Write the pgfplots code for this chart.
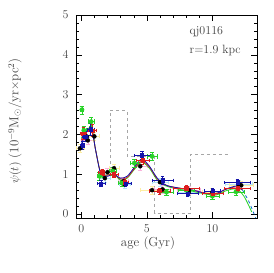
\documentclass[border=0pt]{standalone}
\usepackage{pgfplots}
\pgfplotsset{compat=1.18}
\definecolor{cblue}{RGB}{20,20,170}
\definecolor{cred}{RGB}{220,30,30}
\definecolor{cgreen}{RGB}{40,210,40}
\begin{document}
\begin{tikzpicture}[x=1pt,y=1pt]
\path[use as bounding box] (0,0) rectangle (273,273);
\begin{axis}[at={(76pt,55pt)}, anchor=south west, scale only axis,
  width=181pt, height=203pt,
  xmin=-0.4, xmax=13.4, ymin=-0.1, ymax=5,
  xtick={0,5,10}, minor x tick num=4,
  ytick={0,1,2,3,4,5}, minor y tick num=4,
  tick align=inside, major tick length=6pt, minor tick length=3pt,
  tick style={black, thin},
  axis line style={thin},
  ticklabel style={font=\large, text=black!75},
  yticklabel style={xshift=-4pt},
  xticklabel style={yshift=-3pt},
  clip=true]
% histogram
\addplot[gray!70, dashed, const plot, thin] coordinates {(2.2,1.1) (2.2,2.6) (3.5,1.45) (5.6,0.02) (8.3,1.5) (11.3,1.5)};
% faint error bars
\addplot[only marks, mark=none, error bars/.cd, x dir=both, y dir=both, x explicit, y explicit, error bar style={magenta!30, thin}] table[x=x,y=y,x error=ex,y error=ey] {
x y ex ey
0.5 1.85 0.5 0.1
2.0 1.05 0.4 0.1
3.2 0.82 0.4 0.1
4.5 1.2 0.5 0.1
6.2 0.62 0.6 0.1
8.2 0.6 0.9 0.1
};
\addplot[only marks, mark=none, error bars/.cd, x dir=both, y dir=both, x explicit, y explicit, error bar style={cyan!30, thin}] table[x=x,y=y,x error=ex,y error=ey] {
x y ex ey
0.4 1.95 0.4 0.12
1.8 0.9 0.4 0.1
3.3 0.75 0.4 0.1
6.0 0.8 0.6 0.1
8.2 0.55 0.8 0.1
12.0 0.75 1.0 0.1
};
\addplot[only marks, mark=none, error bars/.cd, x dir=both, y dir=both, x explicit, y explicit, error bar style={yellow!70!orange!35, thin}] table[x=x,y=y,x error=ex,y error=ey] {
x y ex ey
-0.1 1.65 0.3 0.1
1.0 1.95 0.4 0.1
2.5 1.15 0.4 0.1
5.4 0.6 0.9 0.1
10.0 0.55 0.8 0.1
12.2 0.72 0.9 0.1
};
% curves
\addplot[cgreen, smooth, thick] coordinates {(0,1.9) (0.4,2.1) (0.8,2.15) (1.1,1.6) (1.5,1.02) (2.0,0.98) (2.5,1.0) (3.0,0.85) (3.5,0.9) (4.0,1.1) (4.6,1.3) (5.2,1.15) (5.8,0.85) (6.5,0.7) (7.5,0.62) (8.5,0.57) (9.5,0.5) (10.3,0.48) (11.0,0.58) (11.8,0.63) (12.4,0.45) (13.0,0.05)};
\addplot[cred, smooth, thick] coordinates {(0,1.85) (0.4,2.08) (0.8,2.12) (1.1,1.6) (1.5,1.02) (2.0,0.98) (2.5,1.0) (3.0,0.88) (3.5,0.92) (4.0,1.12) (4.6,1.33) (5.2,1.18) (5.8,0.88) (6.5,0.72) (7.5,0.65) (8.5,0.6) (9.5,0.52) (10.3,0.5) (11.0,0.62) (11.8,0.68) (12.3,0.6)};
\addplot[cblue, smooth, thick] coordinates {(0,1.75) (0.4,2.05) (0.8,2.12) (1.1,1.6) (1.5,1.0) (2.0,0.95) (2.5,1.0) (3.0,0.9) (3.5,0.95) (4.0,1.15) (4.6,1.38) (5.2,1.2) (5.8,0.9) (6.5,0.72) (7.5,0.65) (8.5,0.6) (9.5,0.52) (10.3,0.52) (11.0,0.62) (11.8,0.7) (12.3,0.6)};
\addplot[cblue!60!cyan, dashed, thick, smooth] coordinates {(12.3,0.6) (12.8,0.3) (13.3,-0.1)};
% points
\addplot[only marks, mark=*, mark size=2.2pt, cgreen, error bars/.cd, x dir=both, y dir=both, x explicit, y explicit, error bar style={cgreen, thin}] table[x=x,y=y,x error=ex,y error=ey] {
x y ex ey
0.05 2.62 0.1 0.1
0.2 2.1 0.15 0.1
0.75 2.32 0.2 0.12
1.4 0.95 0.2 0.1
2.4 1.08 0.3 0.1
3.1 0.78 0.3 0.08
4.05 1.28 0.3 0.1
5.4 1.45 0.4 0.1
6.5 0.55 0.5 0.08
8.0 0.6 0.6 0.08
10.0 0.45 0.5 0.08
11.8 0.56 0.6 0.08
};
\addplot[only marks, mark=square*, mark size=1.6pt, cred, error bars/.cd, x dir=both, y dir=both, x explicit, y explicit, error bar style={cred, thin}] table[x=x,y=y,x error=ex,y error=ey] {
x y ex ey
0.15 2.02 0.2 0.15
0.85 2.1 0.3 0.15
1.6 1.05 0.3 0.08
2.5 1.0 0.3 0.08
3.3 0.8 0.3 0.08
4.7 1.35 0.5 0.1
5.95 0.58 0.8 0.08
8.0 0.65 1.0 0.08
10.0 0.52 0.8 0.08
11.9 0.65 1.0 0.08
};
\addplot[only marks, mark=square*, mark size=1.6pt, cblue, error bars/.cd, x dir=both, y dir=both, x explicit, y explicit, error bar style={cblue, thin}] table[x=x,y=y,x error=ex,y error=ey] {
x y ex ey
0.1 1.73 0.15 0.1
0.3 1.95 0.2 0.12
0.7 2.13 0.25 0.15
1.5 0.77 0.3 0.08
3.4 0.77 0.4 0.08
4.63 1.48 0.6 0.1
6.2 0.85 0.8 0.1
8.1 0.52 0.8 0.08
10.0 0.58 0.6 0.08
11.9 0.8 1.0 0.08
};
\node[anchor=west, font=\large, text=black!75] at (axis cs:8.0,4.57) {qj0116};
\node[anchor=west, font=\large, text=black!75] at (axis cs:8.0,4.10) {r=1.9 kpc};
\end{axis}
\node[font=\fontsize{13}{15}\selectfont, text=black!75] at (148,30) {age (Gyr)};
\node[font=\fontsize{13}{15}\selectfont, text=black!75, rotate=90] at (15,152) {$\psi(t)$ (10$^{-9}$M$_\odot$/yr$\times$pc$^2$)};
\end{tikzpicture}
\end{document}
